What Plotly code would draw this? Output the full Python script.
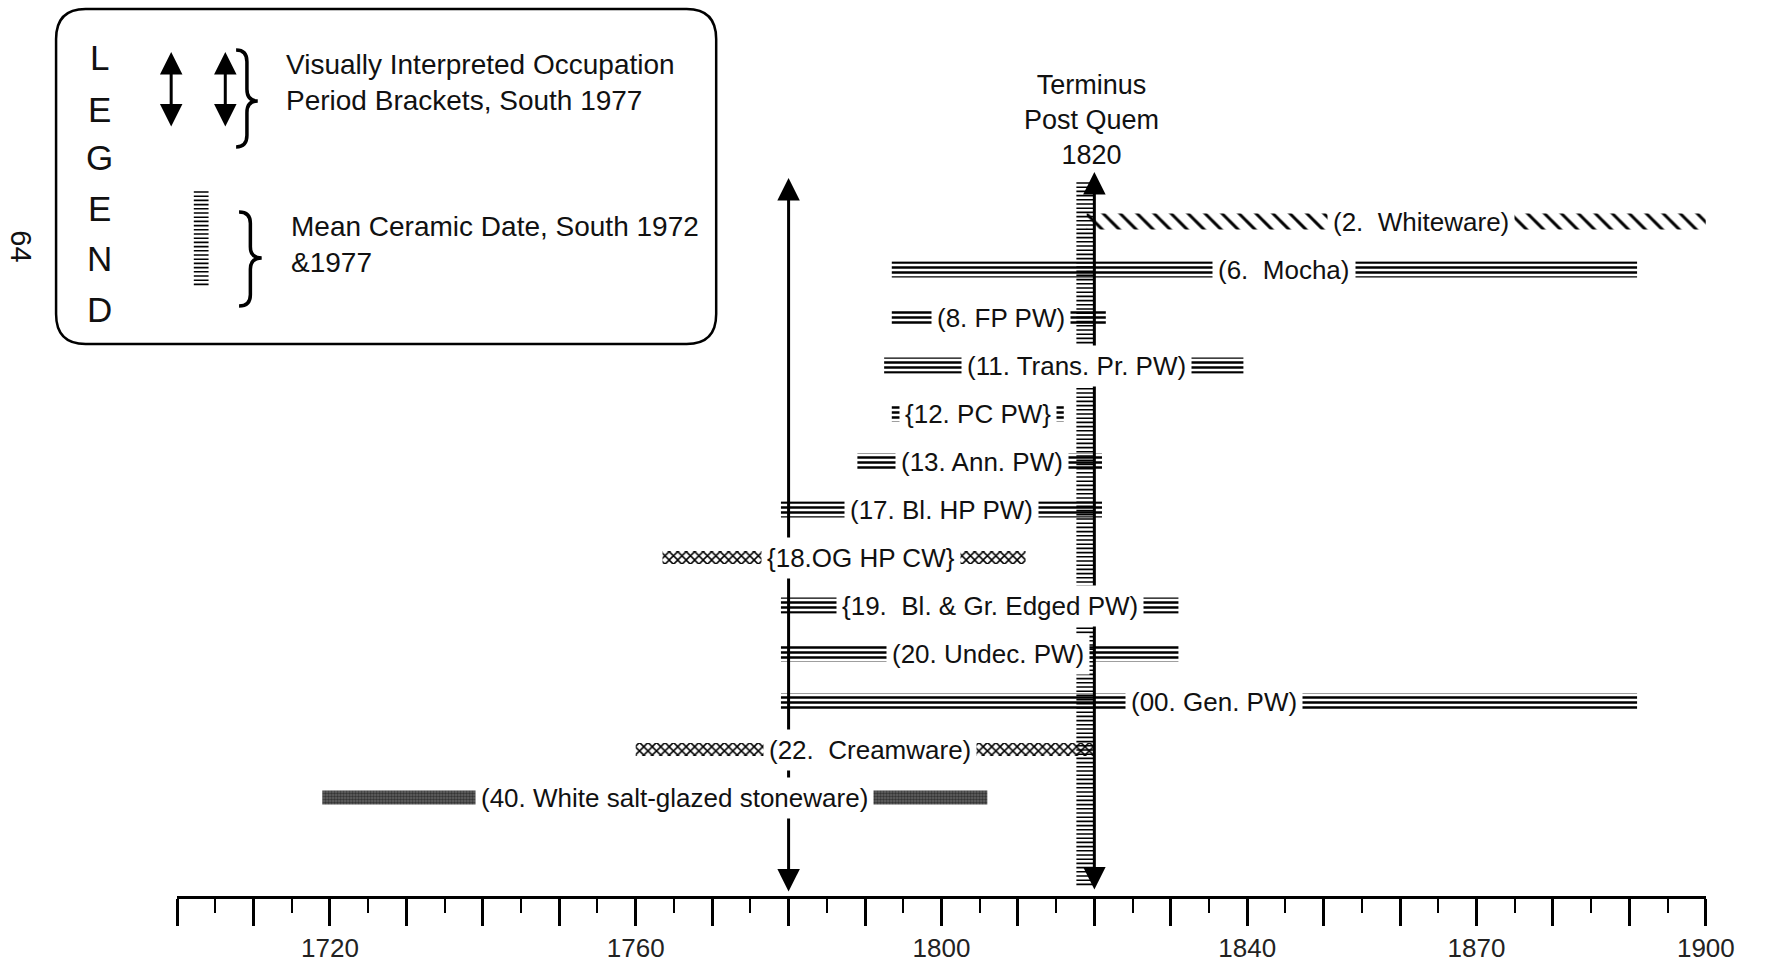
import plotly.graph_objects as go

W, H = 1787, 964

# ---------------- data ----------------
ware_labels = [
    "(2.\u00a0 Whiteware)",
    "(6.\u00a0 Mocha)",
    "(8. FP PW)",
    "(11. Trans. Pr. PW)",
    "{12. PC PW}",
    "(13. Ann. PW)",
    "(17. Bl. HP PW)",
    "{18.OG HP CW}",
    "{19.\u00a0 Bl. & Gr. Edged PW)",
    "(20. Undec. PW)",
    "(00. Gen. PW)",
    "(22.\u00a0 Creamware)",
    "(40. White salt-glazed stoneware)",
]
start_years = [1819, 1793.5, 1793.5, 1792.5, 1793.5, 1789, 1779, 1763.5, 1779, 1779, 1779, 1760, 1719]
end_years = [1900, 1891, 1821.5, 1839.5, 1816, 1821, 1821, 1811, 1831, 1831, 1891, 1820, 1806]
ware_class = ["whiteware", "pearlware", "pearlware", "pearlware", "pearlware", "pearlware",
              "pearlware", "creamware", "pearlware", "pearlware", "pearlware", "creamware",
              "stoneware"]

occupation_start = 1780
terminus_post_quem = 1820
mean_ceramic_date = 1818.8

tick_years = list(range(1700, 1901, 10))
labeled_years = [1720, 1760, 1800, 1840, 1870, 1900]

# ---------------- layout helpers ----------------
X0_PX, X1_PX = 180, 1734          # pixel extent of the 1700-1900 axis
AXIS_Y_PX = 897
ROW_TOP_PX, ROW_STEP_PX = 221.5, 48.0
TXT = "Liberation Sans, Arial, Helvetica, sans-serif"
# horizontal nudge (years) of each label box away from its bar's midpoint
LABEL_NUDGE = [3.2, 2.6, 0.3, 1.7, 0.0, 0.3, 0.0, 2.2, 1.3, 1.1, 0.6, 0.6, 2.6]


def pxp(x):
    return x / W


def pyp(y):
    return 1 - y / H


styles = {
    "whiteware": dict(h=16, color="rgba(0,0,0,0)",
                      pattern=dict(shape="\\", size=12, solidity=0.25, fgcolor="black",
                                   bgcolor="rgba(0,0,0,0)", fillmode="replace")),
    "pearlware": dict(h=16, color="rgba(0,0,0,0)",
                      pattern=dict(shape="-", size=5, solidity=0.5, fgcolor="black",
                                   bgcolor="rgba(0,0,0,0)", fillmode="replace")),
    "creamware": dict(h=13, color="rgba(0,0,0,0)",
                      pattern=dict(shape="x", size=6, solidity=0.45, fgcolor="black",
                                   bgcolor="rgba(0,0,0,0)", fillmode="replace")),
    "stoneware": dict(h=14, color="#666666",
                      pattern=dict(shape=".", size=3, solidity=0.5, fgcolor="black",
                                   fillmode="overlay")),
}

fig = go.Figure()
rows = list(range(len(ware_labels)))
for cls, st in styles.items():
    idx = [i for i in rows if ware_class[i] == cls]
    if not idx:
        continue
    fig.add_trace(go.Bar(
        orientation="h",
        y=idx,
        base=[start_years[i] for i in idx],
        x=[end_years[i] - start_years[i] for i in idx],
        width=[st["h"] / ROW_STEP_PX] * len(idx),
        marker=dict(color=st["color"], line=dict(width=0), pattern=st["pattern"]),
        hoverinfo="skip",
    ))

shapes = []
annotations = []

# mean ceramic date comb (vertical column of short dashes)
comb = []
yy = 183
while yy <= 888:
    comb.append(f"M {mean_ceramic_date - 1.15},{pyp(yy):.5f} L {mean_ceramic_date + 1.1},{pyp(yy):.5f}")
    yy += 4.2
shapes.append(dict(type="path", xref="x", yref="paper", path=" ".join(comb),
                   line=dict(color="black", width=1.6)))

# occupation bracket arrow and terminus post quem arrow
for yr, top, bot in [(occupation_start, 178, 893), (terminus_post_quem, 172, 891)]:
    annotations.append(dict(x=yr, xref="x", y=pyp(top), yref="paper", ax=0, ay=bot - top,
                            text="", showarrow=True, arrowhead=2, startarrowhead=2,
                            arrowside="end+start", arrowsize=1.5, startarrowsize=1.5,
                            arrowwidth=3, arrowcolor="black"))

# row labels (white boxes split each bar in two)
for i in rows:
    annotations.append(dict(x=(start_years[i] + end_years[i]) / 2 + LABEL_NUDGE[i], y=i,
                            xref="x", yref="y", xanchor="center", yanchor="middle",
                            text=ware_labels[i], showarrow=False, bgcolor="white", borderpad=5,
                            font=dict(family=TXT, size=26, color="#111")))

# Terminus Post Quem label
annotations.append(dict(x=pxp(1109), y=pyp(120), xref="paper", yref="paper",
                        xanchor="center", yanchor="middle",
                        text="Terminus<br>Post Quem<br>1820", showarrow=False,
                        font=dict(family=TXT, size=27, color="#111"), align="center"))

# page number
annotations.append(dict(x=pxp(21), y=pyp(246), xref="paper", yref="paper", text="64",
                        xanchor="center", yanchor="middle",
                        textangle=90, showarrow=False, font=dict(family=TXT, size=29, color="#111")))

# ---------------- legend box ----------------
bx0, by0, bx1, by1, r = 57, 9, 728, 344, 30
box = (f"M {pxp(bx0 + r)},{pyp(by0)} L {pxp(bx1 - r)},{pyp(by0)} "
       f"Q {pxp(bx1)},{pyp(by0)} {pxp(bx1)},{pyp(by0 + r)} L {pxp(bx1)},{pyp(by1 - r)} "
       f"Q {pxp(bx1)},{pyp(by1)} {pxp(bx1 - r)},{pyp(by1)} L {pxp(bx0 + r)},{pyp(by1)} "
       f"Q {pxp(bx0)},{pyp(by1)} {pxp(bx0)},{pyp(by1 - r)} L {pxp(bx0)},{pyp(by0 + r)} "
       f"Q {pxp(bx0)},{pyp(by0)} {pxp(bx0 + r)},{pyp(by0)} Z")
shapes.append(dict(type="path", xref="paper", yref="paper", path=box,
                   line=dict(color="black", width=2.5)))

for k, ch in enumerate("LEGEND"):
    annotations.append(dict(x=pxp(101), y=pyp([57, 109, 158, 208, 259, 309][k]), xref="paper",
                            yref="paper", text=ch, showarrow=False,
                            xanchor="center", yanchor="middle",
                            font=dict(family=TXT, size=35, color="#111")))

for ax_x in (174, 229):
    annotations.append(dict(x=pxp(ax_x), y=pyp(52), xref="paper", yref="paper", ax=0, ay=76,
                            text="", showarrow=True, arrowhead=2, startarrowhead=2,
                            arrowside="end+start", arrowsize=1.5, startarrowsize=1.5,
                            arrowwidth=3, arrowcolor="black"))


def brace(x0, y0, y1, w, ymid):
    xm = x0 + w * 0.5
    c = (y1 - y0) * 0.12
    return (f"M {pxp(x0)},{pyp(y0)} Q {pxp(xm)},{pyp(y0)} {pxp(xm)},{pyp(y0 + c)} "
            f"L {pxp(xm)},{pyp(ymid - c)} Q {pxp(xm)},{pyp(ymid)} {pxp(x0 + w)},{pyp(ymid)} "
            f"Q {pxp(xm)},{pyp(ymid)} {pxp(xm)},{pyp(ymid + c)} L {pxp(xm)},{pyp(y1 - c)} "
            f"Q {pxp(xm)},{pyp(y1)} {pxp(x0)},{pyp(y1)}")


shapes.append(dict(type="path", xref="paper", yref="paper", path=brace(240, 50, 147, 22, 101),
                   line=dict(color="black", width=3.5)))
shapes.append(dict(type="path", xref="paper", yref="paper", path=brace(243, 212, 306, 23, 258),
                   line=dict(color="black", width=3.5)))

lc = []
yy = 192
while yy <= 286:
    lc.append(f"M {pxp(197)},{pyp(yy):.5f} L {pxp(212)},{pyp(yy):.5f}")
    yy += 4.2
shapes.append(dict(type="path", xref="paper", yref="paper", path=" ".join(lc),
                   line=dict(color="black", width=1.6)))

for txt, x, y in [("Visually Interpreted Occupation", 289, 65),
                  ("Period Brackets, South 1977", 289, 101),
                  ("Mean Ceramic Date, South 1972", 294, 226),
                  ("&1977", 294, 263)]:
    annotations.append(dict(x=pxp(x), y=pyp(y), xref="paper", yref="paper", text=txt,
                            showarrow=False, xanchor="left", yanchor="middle",
                            font=dict(family=TXT, size=28, color="#111")))

fig.update_layout(
    width=W, height=H,
    margin=dict(l=0, r=0, t=0, b=0),
    paper_bgcolor="white", plot_bgcolor="white",
    showlegend=False, barmode="overlay",
    xaxis=dict(
        range=[1700, 1900], domain=[X0_PX / W, X1_PX / W],
        anchor="free", position=1 - AXIS_Y_PX / H,
        showline=True, linewidth=2.5, linecolor="black",
        showgrid=False, zeroline=False,
        tickmode="array", tickvals=tick_years,
        ticktext=[str(t) if t in labeled_years else "" for t in tick_years],
        ticks="outside", ticklen=27, tickwidth=2.5, tickcolor="black",
        ticklabelstandoff=0,
        tickfont=dict(family=TXT, size=26, color="#222"),
        minor=dict(tickmode="linear", tick0=1705, dtick=10, ticks="outside",
                   ticklen=14, tickwidth=2.2, tickcolor="black", showgrid=False),
        fixedrange=True,
    ),
    yaxis=dict(
        range=[(H - ROW_TOP_PX) / ROW_STEP_PX, -ROW_TOP_PX / ROW_STEP_PX],
        domain=[0, 1], visible=False, fixedrange=True,
    ),
    shapes=shapes,
    annotations=annotations,
)

fig.write_html(
    "out.html",
    config={"displayModeBar": False},
    post_script="document.body.style.margin='0px';document.body.style.overflow='hidden';",
)
